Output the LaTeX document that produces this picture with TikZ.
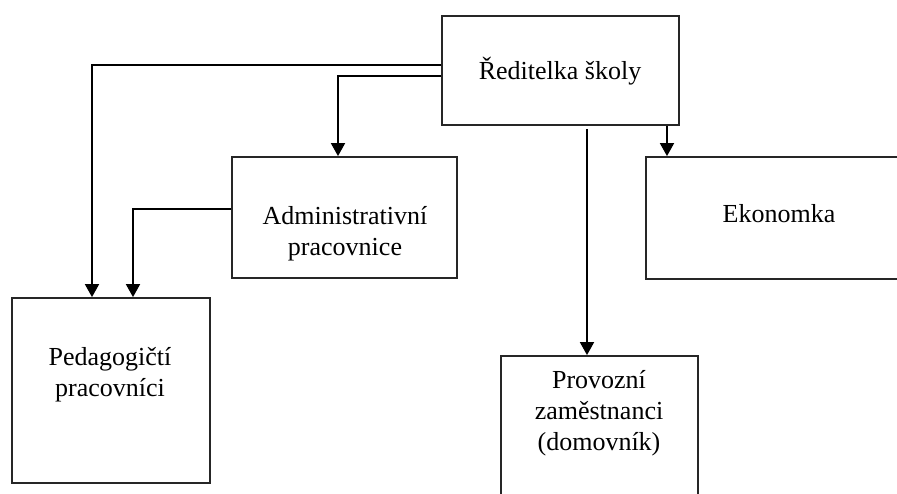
\documentclass[tikz,border=0pt]{standalone}
\usepackage{fontspec}
\setmainfont{Liberation Serif}
\usetikzlibrary{arrows.meta}
\tikzset{
  box/.style={draw=black!85, line width=1.8pt, fill=none, inner sep=0pt},
  lbl/.style={align=center, inner sep=0pt, font=\fontsize{26}{31}\selectfont},
  arr/.style={line width=1.8pt, -{Triangle[width=14pt,length=13pt]}},
  conn/.style={line width=1.8pt}
}
\begin{document}
\begin{tikzpicture}[x=1pt,y=-1pt]
\useasboundingbox (0,0) rectangle (897,493);
\clip (0,0) rectangle (897,493);
% boxes
\node[box, minimum width=237pt, minimum height=109pt] (red) at (560.5,70.5) {};
\node[box, minimum width=225pt, minimum height=121pt] (adm) at (344.5,217.5) {};
\node[box, minimum width=198pt, minimum height=185pt] (ped) at (111,390.5) {};
\node[box, minimum width=274pt, minimum height=122pt] (eko) at (783,218) {};
\node[box, minimum width=197pt, minimum height=180pt] (prov) at (599.5,446) {};
% labels
\node[lbl] (tred) at (560,71) {Ředitelka školy};
\node[lbl] (tadm) at (345,234) {Administrativní\\pracovnice};
\node[lbl] (tped) at (110,375) {Pedagogičtí\\pracovníci};
\node[lbl] (teko) at (779,214) {Ekonomka};
\node[lbl] (tprov) at (599,413) {Provozní\\zaměstnanci\\(domovník)};
% connectors
\draw[arr] ([yshift=5.5pt]red.west) -| ([xshift=-19pt]ped.north);
\draw[arr] ([yshift=-5.5pt]red.west) -| ([xshift=-6.5pt]adm.north);
\draw[arr] ([yshift=8.5pt]adm.west) -| ([xshift=22pt]ped.north);
\coordinate (pv) at ([xshift=26.5pt,yshift=-3pt]red.south);
\draw[arr] (pv) -- (pv |- prov.north);
\coordinate (ek) at ([xshift=106.5pt]red.south);
\draw[arr] (ek) -- (ek |- eko.north);
\end{tikzpicture}
\end{document}
